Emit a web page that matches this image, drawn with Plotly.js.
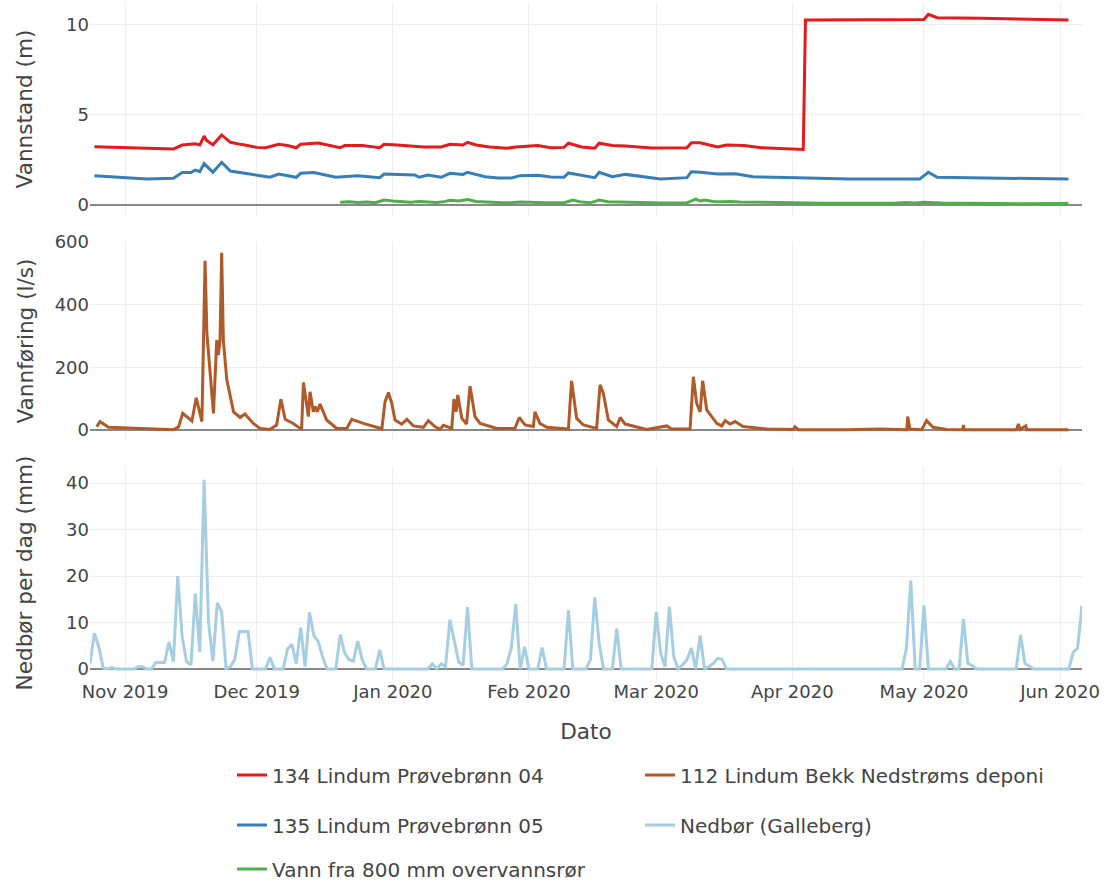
<!DOCTYPE html>
<html>
<head>
<meta charset="utf-8">
<script src="https://cdn.plot.ly/plotly-3.0.1.min.js"></script>
<style>
  html, body { margin: 0; padding: 0; background: #fff; }
  #chart { width: 1112px; height: 883px; }
</style>
</head>
<body>
<div id="chart"></div>
<script>
// ---------- Data ----------
const seriesNames = [
  '134 Lindum Prøvebrønn 04',
  '112 Lindum Bekk Nedstrøms deponi',
  '135 Lindum Prøvebrønn 05',
  'Nedbør (Galleberg)',
  'Vann fra 800 mm overvannsrør'
];

// 134 Lindum Prøvebrønn 04 (m)
const p04Dates = ['2019-10-25','2019-11-01','2019-11-08','2019-11-12','2019-11-14','2019-11-16','2019-11-17','2019-11-18','2019-11-19','2019-11-19 12:00','2019-11-21','2019-11-23','2019-11-25','2019-11-27','2019-11-28','2019-12-01','2019-12-03','2019-12-06','2019-12-08','2019-12-10','2019-12-11','2019-12-15','2019-12-17','2019-12-20','2019-12-21','2019-12-25','2019-12-29','2019-12-30','2020-01-02','2020-01-05','2020-01-08','2020-01-12','2020-01-14','2020-01-17','2020-01-18','2020-01-20','2020-01-23','2020-01-27','2020-01-29','2020-02-03','2020-02-06','2020-02-09','2020-02-10','2020-02-13','2020-02-16','2020-02-17','2020-02-20','2020-02-23','2020-02-29','2020-03-08','2020-03-09','2020-03-11','2020-03-15','2020-03-17','2020-03-21','2020-03-25','2020-04-02','2020-04-03 12:00','2020-04-04','2020-04-17','2020-05-01','2020-05-02','2020-05-04','2020-05-14','2020-06-02 22:00'];
const p04Values = [3.24,3.2,3.14,3.11,3.33,3.35,3.4,3.33,3.83,3.6,3.35,3.89,3.48,3.38,3.35,3.2,3.18,3.37,3.3,3.18,3.38,3.44,3.35,3.18,3.3,3.3,3.18,3.37,3.33,3.26,3.22,3.22,3.37,3.33,3.48,3.33,3.22,3.15,3.22,3.3,3.18,3.2,3.43,3.22,3.15,3.43,3.3,3.28,3.17,3.18,3.46,3.46,3.22,3.33,3.31,3.18,3.11,3.08,10.28,10.31,10.31,10.59,10.4,10.37,10.28];

// 135 Lindum Prøvebrønn 05 (m)
const p05Dates = ['2019-10-25','2019-11-01','2019-11-06','2019-11-12','2019-11-14','2019-11-16','2019-11-17','2019-11-18','2019-11-19','2019-11-21','2019-11-23','2019-11-25','2019-11-28','2019-12-04','2019-12-06','2019-12-10','2019-12-11','2019-12-14','2019-12-19','2019-12-24','2019-12-29','2019-12-30','2020-01-06','2020-01-07','2020-01-09','2020-01-12','2020-01-14','2020-01-17','2020-01-18','2020-01-22','2020-01-25','2020-01-28','2020-01-30','2020-02-03','2020-02-06','2020-02-09','2020-02-10','2020-02-16','2020-02-17','2020-02-20','2020-02-23','2020-03-02','2020-03-08','2020-03-09','2020-03-11','2020-03-15','2020-03-19','2020-03-23','2020-04-02','2020-04-14','2020-04-30','2020-05-02','2020-05-04','2020-05-14','2020-06-02 22:00'];
const p05Values = [1.63,1.5,1.44,1.48,1.8,1.8,1.94,1.85,2.3,1.82,2.37,1.89,1.76,1.54,1.72,1.54,1.76,1.8,1.54,1.63,1.52,1.72,1.67,1.54,1.67,1.54,1.76,1.7,1.82,1.57,1.5,1.5,1.63,1.65,1.56,1.54,1.78,1.52,1.82,1.57,1.7,1.44,1.52,1.85,1.82,1.72,1.74,1.57,1.52,1.44,1.44,1.82,1.54,1.52,1.44];

// Vann fra 800 mm overvannsrør (m)
const pipeDates = ['2019-12-20','2019-12-22','2019-12-24','2019-12-26','2019-12-28','2019-12-30','2020-01-01','2020-01-03','2020-01-05','2020-01-07','2020-01-09','2020-01-11','2020-01-13','2020-01-14','2020-01-16','2020-01-18','2020-01-20','2020-01-22','2020-01-24','2020-01-26','2020-01-28','2020-01-30','2020-02-01','2020-02-03','2020-02-05','2020-02-07','2020-02-09','2020-02-11','2020-02-13','2020-02-15','2020-02-17','2020-02-19','2020-02-21','2020-02-23','2020-02-25','2020-02-27','2020-02-29','2020-03-02','2020-03-04','2020-03-06','2020-03-08','2020-03-10','2020-03-11','2020-03-12','2020-03-14','2020-03-16','2020-03-18','2020-03-20','2020-03-22','2020-03-24','2020-03-26','2020-03-28','2020-03-30','2020-04-01','2020-04-04','2020-04-08','2020-04-12','2020-04-16','2020-04-20','2020-04-24','2020-04-27','2020-04-29','2020-05-01','2020-05-03','2020-05-06','2020-05-10','2020-05-14','2020-05-18','2020-05-22','2020-05-26','2020-05-30','2020-06-02 22:00'];
const pipeValues = [0.15,0.18,0.14,0.17,0.13,0.27,0.22,0.18,0.15,0.19,0.16,0.14,0.2,0.26,0.22,0.3,0.2,0.16,0.14,0.12,0.13,0.17,0.15,0.16,0.13,0.12,0.13,0.28,0.16,0.12,0.27,0.18,0.16,0.14,0.13,0.12,0.12,0.11,0.12,0.11,0.12,0.33,0.22,0.28,0.2,0.18,0.2,0.17,0.16,0.14,0.15,0.13,0.12,0.11,0.1,0.1,0.09,0.08,0.08,0.09,0.14,0.11,0.15,0.12,0.1,0.09,0.1,0.08,0.07,0.08,0.07,0.08];

// 112 Lindum Bekk Nedstrøms deponi (l/s)
const flowDates = ['2019-10-25 13:00','2019-10-26 07:00','2019-10-28 05:00','2019-11-02 03:00','2019-11-07 11:00','2019-11-12 00:00','2019-11-13 04:00','2019-11-14 03:00','2019-11-16 05:00','2019-11-17 05:00','2019-11-18 12:00','2019-11-19 05:00','2019-11-19 15:00','2019-11-21 03:00','2019-11-21 21:00','2019-11-22 06:00','2019-11-22 15:00','2019-11-23 00:00','2019-11-23 09:00','2019-11-24 04:00','2019-11-25 17:00','2019-11-27 05:00','2019-11-28 07:00','2019-11-30 05:00','2019-12-01 18:00','2019-12-04 00:00','2019-12-05 12:00','2019-12-06 12:00','2019-12-07 11:00','2019-12-09 07:00','2019-12-11 05:00','2019-12-11 15:00','2019-12-12 18:00','2019-12-13 03:00','2019-12-13 21:00','2019-12-14 07:00','2019-12-14 19:00','2019-12-15 10:00','2019-12-16 22:00','2019-12-19 05:00','2019-12-21 12:00','2019-12-22 15:00','2019-12-25 07:00','2019-12-29 12:00','2019-12-30 05:00','2019-12-31 00:00','2019-12-31 18:00','2020-01-01 12:00','2020-01-03 00:00','2020-01-04 05:00','2020-01-05 17:00','2020-01-07 23:00','2020-01-09 02:00','2020-01-10 14:00','2020-01-11 18:00','2020-01-12 12:00','2020-01-14 10:00','2020-01-14 22:00','2020-01-15 10:00','2020-01-15 19:00','2020-01-16 17:00','2020-01-17 19:00','2020-01-18 14:00','2020-01-19 17:00','2020-01-20 21:00','2020-01-24 17:00','2020-01-28 19:00','2020-01-29 19:00','2020-01-31 03:00','2020-02-02 00:00','2020-02-02 09:00','2020-02-03 12:00','2020-02-05 02:00','2020-02-10 00:00','2020-02-10 17:00','2020-02-11 21:00','2020-02-13 10:00','2020-02-16 10:00','2020-02-17 05:00','2020-02-17 23:00','2020-02-19 02:00','2020-02-21 00:00','2020-02-21 19:00','2020-02-22 22:00','2020-02-27 19:00','2020-03-03 10:00','2020-03-04 12:00','2020-03-08 17:00','2020-03-09 11:00','2020-03-10 05:00','2020-03-11 00:00','2020-03-11 14:00','2020-03-12 12:00','2020-03-14 19:00','2020-03-15 22:00','2020-03-16 17:00','2020-03-17 19:00','2020-03-18 23:00','2020-03-20 19:00','2020-03-26 05:00','2020-04-01 07:00','2020-04-01 14:00','2020-04-02 10:00','2020-04-13 10:00','2020-04-21 00:00','2020-04-27 02:00','2020-04-27 07:00','2020-04-27 19:00','2020-04-30 12:00','2020-05-01 14:00','2020-05-03 02:00','2020-05-06 05:00','2020-05-09 19:00','2020-05-10 00:00','2020-05-10 05:00','2020-05-22 02:00','2020-05-22 12:00','2020-05-22 22:00','2020-05-24 05:00','2020-05-24 10:00','2020-06-02 22:00'];
const flowValues = [10.6,26.6,8.5,6.4,3,0.5,10,53,29,103,27,540,309,53,287,239,287,566,287,160,58,40,51,21,5,2,16,98,34,21,2,152,43,122,58,75,58,83,32,5,5,34,21,4,90,120,85,32,19,34,13,8.5,30,11,2,15,5,99,58,112,37,19,140,43,21,5,5,40,16,11,58,21,8.5,3,157,37,16,5,144,117,32,11,40,19,2,13,3,3,170,85,58,157,64,21,13,30,19,27,11,3,2,10,1,0.5,3,1,43,3,1,30,8.5,2,1,16,1,1,19,2,13,1,0.5];

// Nedbør per dag (mm), daily from 2019-10-24 to 2020-06-06
const rainStart = '2019-10-24';
const rainValues = [
  // Oct 24-31
  1.2,7.7,4.8,0.2,0,0.3,0,0,
  // Nov
  0,0,0,0.5,0.5,0,0,1.4,1.4,1.4,5.8,1.6,20,6.9,1.6,0.9,16.2,3.7,40.7,10,1.7,14.2,12.3,0.1,0.5,2.1,8,8,8.1,0,
  // Dec
  0,0,0,2.5,0,0,0,4.3,5.3,1.1,8.9,0.5,12.2,7.2,5.9,2.6,0,0,0,7.4,3.5,2,1.7,6,2,0,0,0,4.1,0,0,
  // Jan
  0,0,0,0,0,0,0,0,0,1.1,0,1.1,0.5,10.6,6,1.5,0.8,13.3,0,0,0,0,0,0,0,0,1.1,4.6,14,0,4.8,
  // Feb
  0,0,0,4.6,0,0,0,0,0,12.6,0,0,0,0,2,15.4,5.5,0,0,0,8.7,0,0,0,0,0,0,0,0,
  // Mar
  12.3,3.4,0.5,13.4,2.6,0,0.9,2,4.5,0,7.2,0,0.5,1.2,2.3,2.1,0,0,0,0,0,0,0,0,0,0,0,0,0,0,0,
  // Apr
  0,0,0,0,0,0,0,0,0,0,0,0,0,0,0,0,0,0,0,0,0,0,0,0,0,0,4.5,19,0,0,
  // May
  13.7,0,0,0,0,0,1.6,0,0,10.8,1.2,0.7,0,0,0,0,0,0,0,0,0,0,7.3,1.2,0.6,0,0,0,0,0,0,
  // Jun 1-6
  0,0,0,3.6,4.5,13.6
];

const xTickLabels = ['Nov 2019','Dec 2019','Jan 2020','Feb 2020','Mar 2020','Apr 2020','May 2020','Jun 2020'];
const xTickVals = ['2019-11-01','2019-12-01','2020-01-01','2020-02-01','2020-03-01','2020-04-01','2020-05-01','2020-06-01'];

// ---------- Build ----------
function dailyDates(start, n) {
  const out = [];
  const d0 = new Date(start + 'T00:00:00Z');
  for (let i = 0; i < n; i++) {
    const d = new Date(d0.getTime() + i * 86400000);
    out.push(d.toISOString().slice(0, 10));
  }
  return out;
}
const rainDates = dailyDates(rainStart, rainValues.length);

const FONT = 'DejaVu Sans, Verdana, sans-serif';
const LW = 3;

const traces = [
  {x: p04Dates, y: p04Values, name: seriesNames[0], xaxis: 'x', yaxis: 'y',
   mode: 'lines', line: {color: '#e41a1c', width: LW}, legend: 'legend'},
  {x: flowDates, y: flowValues, name: seriesNames[1], xaxis: 'x', yaxis: 'y2',
   mode: 'lines', line: {color: '#b15928', width: LW}, legend: 'legend2'},
  {x: p05Dates, y: p05Values, name: seriesNames[2], xaxis: 'x', yaxis: 'y',
   mode: 'lines', line: {color: '#377eb8', width: LW}, legend: 'legend3'},
  {x: rainDates, y: rainValues, name: seriesNames[3], xaxis: 'x', yaxis: 'y3',
   mode: 'lines', line: {color: '#a6cee3', width: LW}, legend: 'legend4'},
  {x: pipeDates, y: pipeValues, name: seriesNames[4], xaxis: 'x', yaxis: 'y',
   mode: 'lines', line: {color: '#4daf4a', width: LW}, legend: 'legend5'}
];

const W = 1112, H = 883;
const mL = 90, mR = 30, mT = 3, mB = 204;
const pw = W - mL - mR, ph = H - mT - mB;
const px2x = p => (p - mL) / pw;
const py2y = p => (H - mB - p) / ph;

function leg(xpx, ypx) {
  return {
    x: px2x(xpx), y: py2y(ypx), xref: 'paper', yref: 'paper',
    xanchor: 'left', yanchor: 'middle', orientation: 'v',
    bgcolor: 'rgba(0,0,0,0)', font: {family: FONT, size: 20, color: '#444'}
  };
}

const yCommon = {
  showgrid: true, gridcolor: '#eeeeee', gridwidth: 1,
  zeroline: true, zerolinecolor: '#888888', zerolinewidth: 2,
  tickfont: {family: FONT, size: 18, color: '#444'},
  ticks: '', showline: false, fixedrange: true
};

const layout = {
  width: W, height: H,
  margin: {l: mL, r: mR, t: mT, b: mB, pad: 0, autoexpand: false},
  paper_bgcolor: '#fff', plot_bgcolor: '#fff',
  font: {family: FONT, size: 18, color: '#444'},
  showlegend: true,
  xaxis: {
    type: 'date', anchor: 'y3',
    range: ['2019-10-24', '2020-06-06'],
    tickvals: xTickVals, ticktext: xTickLabels,
    showgrid: true, gridcolor: '#eeeeee', gridwidth: 1,
    tickfont: {family: FONT, size: 18, color: '#444'},
    title: {text: 'Dato', standoff: 22, font: {family: FONT, size: 21.6, color: '#444'}},
    ticks: '', showline: false, zeroline: false
  },
  yaxis: Object.assign({}, yCommon, {
    domain: [py2y(215), 1], range: [-0.556, 11.22], tickvals: [0, 5, 10],
    title: {text: 'Vannstand (m)', standoff: 27, font: {family: FONT, size: 21.6, color: '#444'}}
  }),
  yaxis2: Object.assign({}, yCommon, {
    domain: [py2y(440), py2y(242)], range: [-31.9, 600.2], tickvals: [0, 200, 400, 600],
    title: {text: 'Vannføring (l/s)', standoff: 15, font: {family: FONT, size: 21.6, color: '#444'}}
  }),
  yaxis3: Object.assign({}, yCommon, {
    domain: [0, py2y(467)], range: [-2.15, 43.44], tickvals: [0, 10, 20, 30, 40],
    title: {text: 'Nedbør per dag (mm)', standoff: 27, font: {family: FONT, size: 21.6, color: '#444'}}
  }),
  legend: leg(232, 775),
  legend2: leg(640, 775),
  legend3: leg(232, 825),
  legend4: leg(640, 825),
  legend5: leg(232, 869)
};

Plotly.newPlot('chart', traces, layout, {displayModeBar: false, staticPlot: true});
</script>
</body>
</html>
